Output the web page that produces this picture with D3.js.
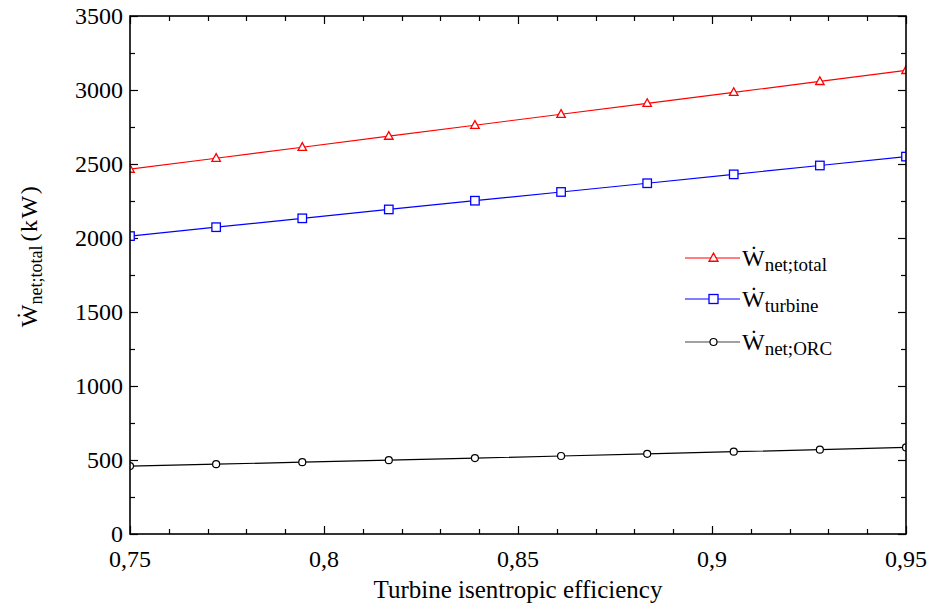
<!DOCTYPE html>
<html>
<head>
<meta charset="utf-8">
<script src="https://cdn.jsdelivr.net/npm/d3@7"></script>
<style>
  html, body { margin: 0; padding: 0; background: #fff; }
</style>
</head>
<body>
<svg id="chart" width="930" height="610" font-family="'Liberation Serif', 'Times New Roman', serif"></svg>
<script>
// ---- data ----
const efficiency = [0.75, 0.7722, 0.7944, 0.8167, 0.8389, 0.8611, 0.8833, 0.9056, 0.9278, 0.95];
const wNetTotal  = [2465, 2539, 2613, 2688, 2762, 2836, 2910, 2984, 3058, 3132];
const wTurbine   = [2013, 2073, 2133, 2193, 2252, 2311, 2370, 2430, 2490, 2550];
const wNetORC    = [459, 472, 485, 499, 513, 527, 542, 556, 570, 585];
const xTickValues = [0.75, 0.8, 0.85, 0.9, 0.95];
const xTickLabels = ["0,75", "0,8", "0,85", "0,9", "0,95"];
const yTickValues = [0, 500, 1000, 1500, 2000, 2500, 3000, 3500];

const FONT = "'Liberation Serif', 'Times New Roman', serif";
const svg = d3.select("#chart");
const L = 130, R = 906, T = 16, B = 534;
const x = d3.scaleLinear().domain([0.75, 0.95]).range([L, R]);
const y = d3.scaleLinear().domain([0, 3500]).range([B, T]);

const series = [
  { name: "total",   vals: wNetTotal, color: "#ff0000", marker: "triangle", sub: "net;total" },
  { name: "turbine", vals: wTurbine,  color: "#0000ff", marker: "square",   sub: "turbine" },
  { name: "orc",     vals: wNetORC,   color: "#000000", marker: "circle",   sub: "net;ORC" }
];

svg.append("defs").append("clipPath").attr("id", "plotclip")
  .append("rect").attr("x", L).attr("y", T).attr("width", R - L).attr("height", B - T);

// ticks (inside, all four sides)
const minorX = d3.range(0, 21).map(i => 0.75 + i * 0.01);
const minorY = d3.range(0, 15).map(i => i * 250);
const tk = svg.append("g").attr("stroke", "#000").attr("stroke-width", 1.2);
minorX.forEach((v, i) => {
  const len = (i % 5 === 0) ? 8 : 5;
  const px = Math.round(x(v)) + 0.5;
  tk.append("line").attr("x1", px).attr("x2", px).attr("y1", B).attr("y2", B - len);
  tk.append("line").attr("x1", px).attr("x2", px).attr("y1", T).attr("y2", T + len);
});
minorY.forEach((v, i) => {
  const len = (i % 2 === 0) ? 8 : 5;
  const py = Math.round(y(v)) + 0.5;
  tk.append("line").attr("x1", L).attr("x2", L + len).attr("y1", py).attr("y2", py);
  tk.append("line").attr("x1", R).attr("x2", R - len).attr("y1", py).attr("y2", py);
});

// tick labels
svg.append("g").selectAll("text").data(xTickValues).join("text")
  .attr("font-family", FONT)
  .attr("x", d => x(d)).attr("y", 567).attr("text-anchor", "middle")
  .attr("font-size", 24).text((d, i) => xTickLabels[i]);
svg.append("g").selectAll("text").data(yTickValues).join("text")
  .attr("font-family", FONT)
  .attr("x", 123).attr("y", d => y(d) + 8).attr("text-anchor", "end")
  .attr("font-size", 24).text(d => String(d));

// series
const plot = svg.append("g").attr("clip-path", "url(#plotclip)");
function drawMarker(g, type, cx, cy, color, s) {
  if (type === "triangle") {
    const h = s * 0.9;
    g.append("path").attr("d", `M${cx},${cy - h * 0.6} L${cx + s / 2},${cy + h * 0.4} L${cx - s / 2},${cy + h * 0.4} Z`)
      .attr("fill", "#fff").attr("stroke", color).attr("stroke-width", 1.3);
  } else if (type === "square") {
    g.append("rect").attr("x", cx - s / 2).attr("y", cy - s / 2).attr("width", s).attr("height", s)
      .attr("fill", "#fff").attr("stroke", color).attr("stroke-width", 1.3);
  } else {
    g.append("circle").attr("cx", cx).attr("cy", cy).attr("r", s / 2)
      .attr("fill", "#fff").attr("stroke", color).attr("stroke-width", 1.2);
  }
}
const line = d3.line().x((d, i) => x(efficiency[i])).y(d => y(d));
series.forEach(s => {
  plot.append("path").datum(s.vals).attr("d", line)
    .attr("fill", "none").attr("stroke", s.color).attr("stroke-width", 1.2);
  s.vals.forEach((v, i) => drawMarker(plot, s.marker, x(efficiency[i]), y(v), s.color,
    s.marker === "circle" ? 7 : 8.5));
});

// frame
svg.append("rect").attr("x", L).attr("y", T).attr("width", R - L).attr("height", B - T)
  .attr("fill", "none").attr("stroke", "#000").attr("stroke-width", 1.6);

// legend
const legY = [258, 299, 342];
series.forEach((s, i) => {
  const g = svg.append("g");
  g.append("line").attr("x1", 685).attr("x2", 740).attr("y1", legY[i]).attr("y2", legY[i])
    .attr("stroke", s.color === "#000000" ? "#444" : s.color).attr("stroke-width", 1.2);
  drawMarker(g, s.marker, 713.5, legY[i], s.color, s.marker === "circle" ? 7 : 9);
  const t = g.append("text").attr("font-family", FONT)
    .attr("x", 742).attr("y", legY[i] + 8).attr("font-size", 24);
  t.append("tspan").text("\u1E86");
  t.append("tspan").attr("font-size", 19).attr("dy", 5).text(s.sub);
});

// axis titles
svg.append("text").attr("font-family", FONT)
  .attr("x", 518).attr("y", 598).attr("text-anchor", "middle")
  .attr("font-size", 25).text("Turbine isentropic efficiency");
const yt = svg.append("text").attr("font-family", FONT)
  .attr("transform", "translate(37,256) rotate(-90)")
  .attr("text-anchor", "middle").attr("font-size", 24);
yt.append("tspan").text("\u1E86");
yt.append("tspan").attr("font-size", 18).attr("dy", 5).text("net;total");
yt.append("tspan").attr("dy", -5).attr("dx", 4).attr("letter-spacing", 1.5).text("(kW)");
</script>
</body>
</html>
